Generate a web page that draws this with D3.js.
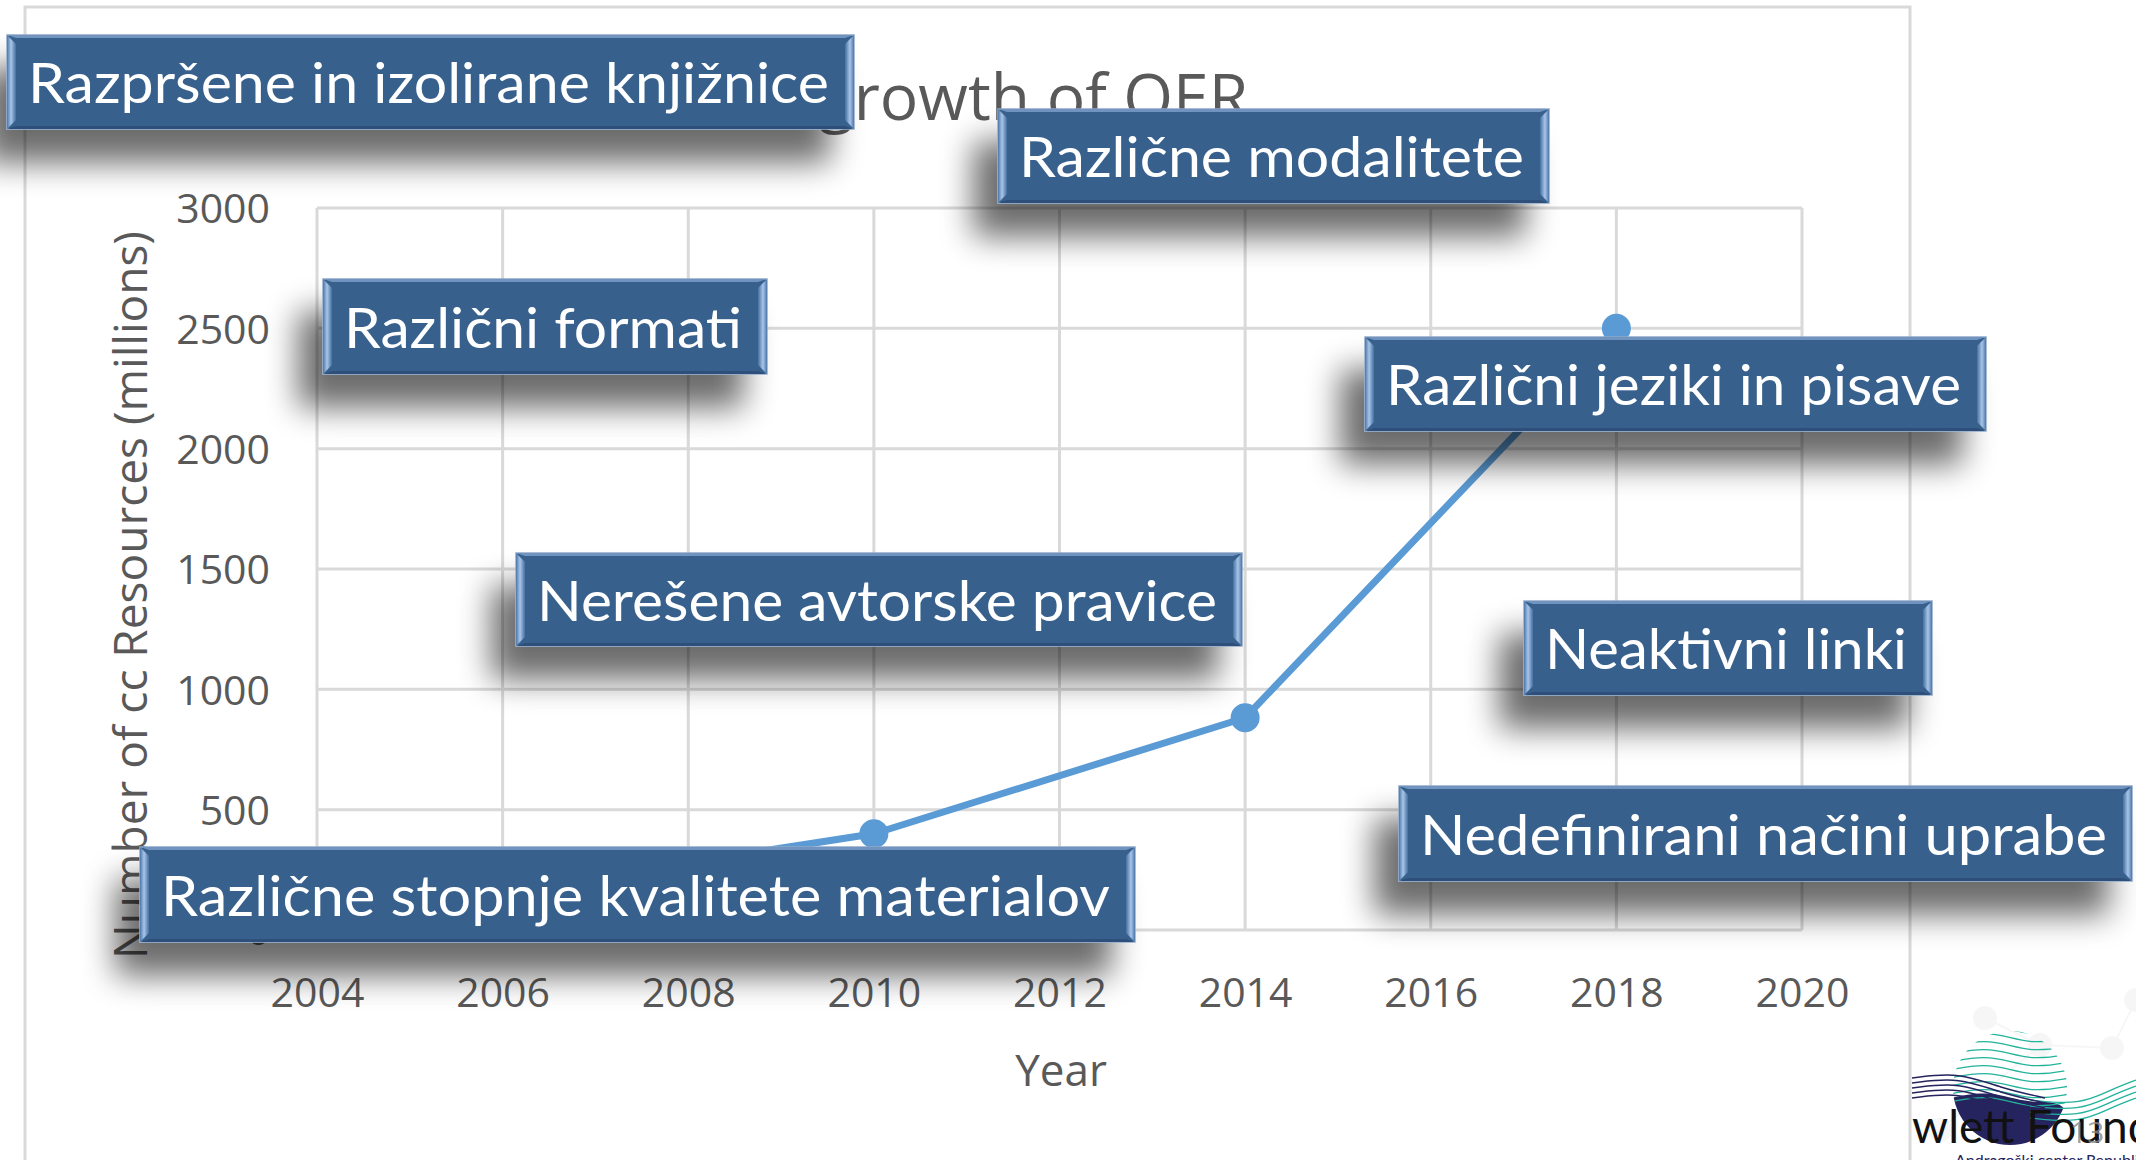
<!DOCTYPE html>
<html>
<head>
<meta charset="utf-8">
<script src="https://cdn.jsdelivr.net/npm/d3@7"></script>
<style>
  body { margin: 0; background: #fff; }
  svg { display: block; }
</style>
</head>
<body>
<svg id="canvas" width="2136" height="1160"></svg>
<script>
// data (points behind the boxes are estimates)
let years = [2006, 2008, 2010, 2014, 2018]
let resources = [50, 280, 400, 882, 2500]
let xTicks = [2004, 2006, 2008, 2010, 2012, 2014, 2016, 2018, 2020]
let yTicks = [0, 500, 1000, 1500, 2000, 2500, 3000]
let title = "The growth of OER"
let yTitle = "Number of cc Resources (millions)"
let xTitle = "Year"
let notes = [
    "Razpršene in izolirane knjižnice",
    "Različne modalitete",
    "Različni formati",
    "Različni jeziki in pisave",
    "Nerešene avtorske pravice",
    "Neaktivni linki",
    "Nedefinirani načini uprabe",
    "Različne stopnje kvalitete materialov"
]

// where the note boxes sit on the slide
let noteBoxes = [
    {x: 7, y: 35, w: 847, h: 94},
    {x: 998, y: 109, w: 551, h: 94},
    {x: 323, y: 279, w: 444, h: 95},
    {x: 1365, y: 337, w: 621, h: 94},
    {x: 516, y: 553, w: 726, h: 93},
    {x: 1524, y: 601, w: 408, h: 94},
    {x: 1399, y: 786, w: 733, h: 95},
    {x: 140, y: 847, w: 995, h: 95}
]

let canvas = d3.select("#canvas")
let grey = "#595959"
let gridColor = "#d9d9d9"
let lineColor = "#5b9bd5"

let xScale = d3.scaleLinear().domain([2004, 2020]).range([317, 1802])
let yScale = d3.scaleLinear().domain([0, 3000]).range([930, 208])

let defs = canvas.append("defs")

let shadow = defs.append("filter").attr("id", "shadow")
    .attr("x", "-20%").attr("y", "-60%").attr("width", "140%").attr("height", "260%")
shadow.append("feGaussianBlur").attr("in", "SourceAlpha").attr("stdDeviation", 16)
shadow.append("feOffset").attr("dx", -24).attr("dy", 33).attr("result", "off")
shadow.append("feComponentTransfer").append("feFuncA").attr("type", "linear").attr("slope", 0.58)
let merge = shadow.append("feMerge")
merge.append("feMergeNode")
merge.append("feMergeNode").attr("in", "SourceGraphic")

let bevelL = defs.append("linearGradient").attr("id", "bevelL")
bevelL.append("stop").attr("offset", "0%").attr("stop-color", "#4d77a8")
bevelL.append("stop").attr("offset", "45%").attr("stop-color", "#a9c5ea")
bevelL.append("stop").attr("offset", "100%").attr("stop-color", "#46709f")
let bevelR = defs.append("linearGradient").attr("id", "bevelR")
bevelR.append("stop").attr("offset", "0%").attr("stop-color", "#46709f")
bevelR.append("stop").attr("offset", "55%").attr("stop-color", "#a9c5ea")
bevelR.append("stop").attr("offset", "100%").attr("stop-color", "#4d77a8")

// slide decoration behind the logo
let deco = canvas.append("g").attr("opacity", 0.3)
let nodes = [[1985, 1018], [2112, 1048], [2040, 1045], [1940, 1130], [2136, 1000]]
deco.selectAll("line").data([[0, 2], [2, 1], [1, 4], [2, 3]]).enter().append("line")
    .attr("x1", d => nodes[d[0]][0]).attr("y1", d => nodes[d[0]][1])
    .attr("x2", d => nodes[d[1]][0]).attr("y2", d => nodes[d[1]][1])
    .attr("stroke", "#e4e4e4").attr("stroke-width", 2)
deco.selectAll("circle").data(nodes).enter().append("circle")
    .attr("cx", d => d[0]).attr("cy", d => d[1]).attr("r", 12).attr("fill", "#e2e2e2")

// chart frame
canvas.append("rect").attr("x", 25).attr("y", 7).attr("width", 1885).attr("height", 1200)
    .attr("fill", "none").attr("stroke", gridColor).attr("stroke-width", 3)

// grid
canvas.append("g").selectAll("line").data(yTicks).enter().append("line")
    .attr("x1", xScale(2004)).attr("x2", xScale(2020))
    .attr("y1", d => yScale(d)).attr("y2", d => yScale(d))
    .attr("stroke", gridColor).attr("stroke-width", 3)
canvas.append("g").selectAll("line").data(xTicks).enter().append("line")
    .attr("x1", d => xScale(d)).attr("x2", d => xScale(d))
    .attr("y1", yScale(0)).attr("y2", yScale(3000))
    .attr("stroke", gridColor).attr("stroke-width", 3)

// axes
let yAxis = canvas.append("g").attr("transform", "translate(" + xScale(2004) + ",0)")
    .call(d3.axisLeft(yScale).tickValues(yTicks).tickFormat(d3.format("d")).tickSize(0).tickPadding(47))
let xAxis = canvas.append("g").attr("transform", "translate(0," + yScale(0) + ")")
    .call(d3.axisBottom(xScale).tickValues(xTicks).tickFormat(d3.format("d")).tickSize(0).tickPadding(48))
;[yAxis, xAxis].forEach(a => {
    a.select(".domain").remove()
    a.selectAll("text").attr("fill", grey).style("font-family", "'Open Sans'").style("font-size", "41px")
})
yAxis.selectAll("text").attr("dy", "0.36em")

canvas.append("text").text(title)
    .attr("x", 970).attr("y", 120).attr("text-anchor", "middle")
    .attr("fill", grey).style("font-family", "'Open Sans'").style("font-size", "64px")
canvas.append("text").text(yTitle)
    .attr("transform", "translate(147,595) rotate(-90)").attr("text-anchor", "middle")
    .attr("fill", grey).style("font-family", "'Open Sans'").style("font-size", "46px")
canvas.append("text").text(xTitle)
    .attr("x", 1061).attr("y", 1086).attr("text-anchor", "middle")
    .attr("fill", grey).style("font-family", "'Open Sans'").style("font-size", "44px")

// series
let points = years.map((y, i) => [y, resources[i]])
canvas.append("path").datum(points)
    .attr("d", d3.line().x(d => xScale(d[0])).y(d => yScale(d[1])))
    .attr("fill", "none").attr("stroke", lineColor).attr("stroke-width", 7)
    .attr("stroke-linejoin", "round")
canvas.append("g").selectAll("circle").data(points).enter().append("circle")
    .attr("cx", d => xScale(d[0])).attr("cy", d => yScale(d[1])).attr("r", 14.5)
    .attr("fill", lineColor)

// note boxes
let box = canvas.append("g").selectAll("g").data(notes).enter().append("g")
    .attr("filter", "url(#shadow)")
box.append("rect")
    .attr("x", (d, i) => noteBoxes[i].x).attr("y", (d, i) => noteBoxes[i].y)
    .attr("width", (d, i) => noteBoxes[i].w).attr("height", (d, i) => noteBoxes[i].h)
    .attr("fill", "#38618c").attr("stroke", "#8ea8c8").attr("stroke-width", 1.5)
let bv = 9
box.append("path").attr("fill", "url(#bevelL)").attr("d", (d, i) => {
    let b = noteBoxes[i]
    return "M" + b.x + "," + b.y + "L" + (b.x + bv) + "," + (b.y + bv) + "L" + (b.x + bv) + "," + (b.y + b.h - bv) + "L" + b.x + "," + (b.y + b.h) + "Z"
})
box.append("path").attr("fill", "url(#bevelR)").attr("d", (d, i) => {
    let b = noteBoxes[i]
    let r = b.x + b.w
    return "M" + r + "," + b.y + "L" + (r - bv) + "," + (b.y + bv) + "L" + (r - bv) + "," + (b.y + b.h - bv) + "L" + r + "," + (b.y + b.h) + "Z"
})
box.append("path").attr("fill", "#6f93c0").attr("d", (d, i) => {
    let b = noteBoxes[i]
    return "M" + b.x + "," + b.y + "L" + (b.x + b.w) + "," + b.y + "L" + (b.x + b.w - bv) + "," + (b.y + 3) + "L" + (b.x + bv) + "," + (b.y + 3) + "Z"
})
box.append("path").attr("fill", "#2d5079").attr("d", (d, i) => {
    let b = noteBoxes[i]
    let bt = b.y + b.h
    return "M" + b.x + "," + bt + "L" + (b.x + b.w) + "," + bt + "L" + (b.x + b.w - bv) + "," + (bt - 3) + "L" + (b.x + bv) + "," + (bt - 3) + "Z"
})
box.append("text").text(d => d)
    .attr("x", (d, i) => noteBoxes[i].x + 21)
    .attr("y", (d, i) => noteBoxes[i].y + noteBoxes[i].h / 2 + 21)
    .attr("textLength", (d, i) => noteBoxes[i].w - 46)
    .attr("lengthAdjust", "spacingAndGlyphs")
    .attr("fill", "#fff").style("font-family", "Lato").style("font-size", "57px")

// logo, bottom right
let logo = canvas.append("g")
defs.append("clipPath").attr("id", "disc").append("circle").attr("cx", 2010).attr("cy", 1088).attr("r", 57)
let wave = d3.line().curve(d3.curveBasis)
logo.append("path").attr("clip-path", "url(#disc)")
    .attr("d", wave([[1950, 1098], [1990, 1090], [2030, 1105], [2070, 1098], [2070, 1150], [1950, 1150]]) + "Z")
    .attr("fill", "#26245e")
let tealOffsets = [-60, -52, -44, -36, -28, -20, -12, -4, 4, 12]
logo.append("g").attr("clip-path", "url(#disc)").selectAll("path").data(tealOffsets).enter().append("path")
    .attr("d", o => wave([[1950, 1090 + o], [1990, 1082 + o], [2030, 1097 + o], [2070, 1090 + o]]))
    .attr("fill", "none").attr("stroke", "#21b39b").attr("stroke-width", 1.3)
logo.append("g").selectAll("path").data([0, 6, 12, 18]).enter().append("path")
    .attr("d", o => wave([[2030, 1100 + o], [2080, 1105 + o], [2110, 1090 + o], [2136, 1080 + o]]))
    .attr("fill", "none").attr("stroke", "#21b39b").attr("stroke-width", 1.3)
logo.append("g").selectAll("path").data([0, 5, 10, 15, 20]).enter().append("path")
    .attr("d", o => wave([[1912, 1078 + o], [1960, 1072 + o], [2000, 1088 + o], [2045, 1098 + o]]))
    .attr("fill", "none").attr("stroke", "#26245e").attr("stroke-width", 1.5)
logo.append("text").text("wlett Found")
    .attr("x", 1912).attr("y", 1143).attr("fill", "#111")
    .style("font-family", "Lato").style("font-size", "46px")
logo.append("text").text("13")
    .attr("x", 2070).attr("y", 1143).attr("fill", "#8a8a8a").attr("opacity", 0.8)
    .style("font-family", "'Open Sans'").style("font-size", "30px")
logo.append("text").text("Andragoški center Republike Slovenije")
    .attr("x", 1955).attr("y", 1166).attr("fill", "#26245e")
    .style("font-family", "Lato").style("font-size", "16px")
</script>
</body>
</html>
